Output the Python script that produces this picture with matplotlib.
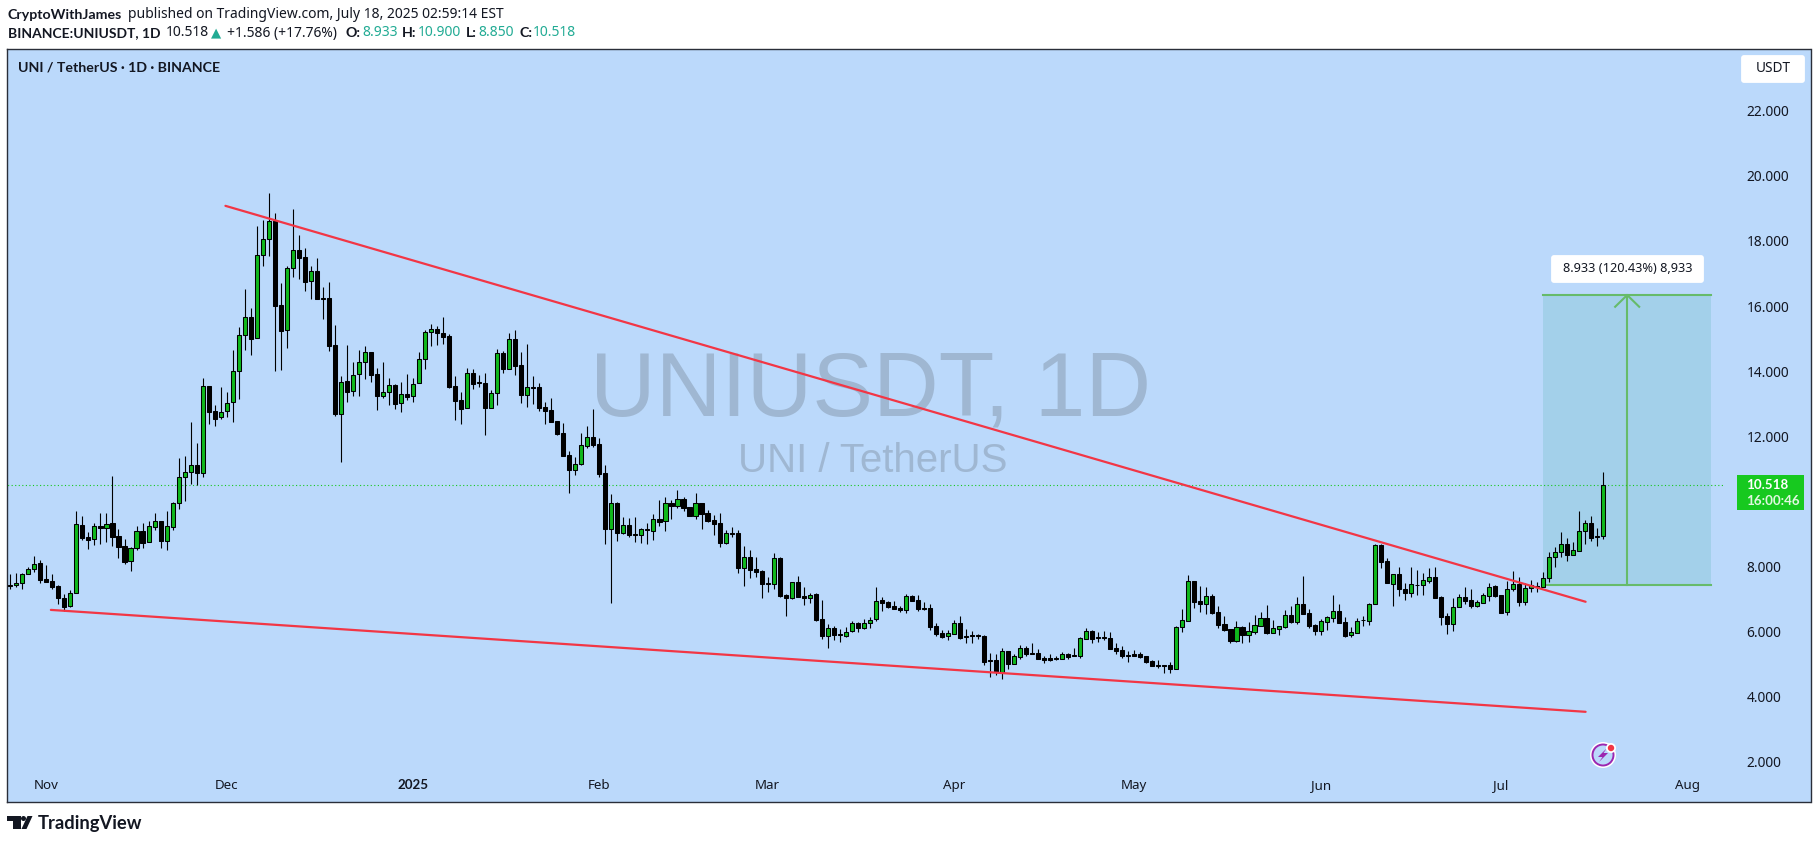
import pandas as pd
import numpy as np
import matplotlib
matplotlib.use('Agg')
import matplotlib.pyplot as plt
from matplotlib.patches import FancyBboxPatch, Rectangle, Polygon, Circle

# Daily candles, 2024-10-26 to 2025-07-18
dates = pd.date_range('2024-10-26', periods=266)

opens = [
    7.43, 7.42, 7.51, 7.78, 7.92, 8.10, 7.61, 7.55, 7.40, 7.03,
    6.78, 7.18, 9.27, 8.90, 8.84, 9.24, 9.20, 9.33, 8.93, 8.62,
    8.16, 8.56, 9.08, 8.75, 9.23, 9.39, 8.80, 9.23, 9.94, 10.74,
    10.90, 11.11, 10.86, 13.54, 12.77, 12.58, 12.77, 13.05, 14.00, 15.10,
    15.66, 15.01, 17.56, 18.05, 18.60, 16.02, 15.26, 17.16, 17.71, 17.50,
    16.76, 17.07, 16.25, 16.24, 14.80, 12.70, 13.69, 13.38, 13.90, 14.27,
    14.58, 13.90, 13.25, 13.35, 13.57, 13.01, 13.31, 13.23, 13.63, 14.37,
    15.21, 15.29, 15.16, 15.07, 13.54, 13.11, 12.86, 13.94, 13.67, 13.63,
    12.88, 13.32, 14.55, 14.08, 14.98, 14.18, 13.28, 13.52, 13.51, 12.90,
    12.80, 12.46, 12.09, 11.42, 10.98, 11.14, 11.71, 11.97, 11.76, 10.86,
    9.16, 9.95, 9.04, 9.27, 9.00, 8.98, 9.15, 9.10, 9.45, 9.39,
    9.94, 9.87, 10.07, 9.82, 9.56, 9.94, 9.64, 9.43, 9.33, 8.74,
    9.02, 9.02, 7.97, 8.31, 7.92, 7.86, 7.50, 7.48, 8.26, 7.13,
    7.05, 7.52, 7.09, 7.05, 7.15, 6.38, 5.88, 6.10, 5.93, 5.88,
    6.01, 6.26, 6.11, 6.28, 6.38, 6.96, 6.90, 6.79, 6.73, 6.68,
    7.09, 6.96, 6.72, 6.72, 6.17, 5.95, 5.86, 5.94, 6.26, 5.86,
    5.89, 5.90, 5.87, 5.13, 5.12, 4.77, 5.40, 5.02, 5.23, 5.49,
    5.35, 5.34, 5.19, 5.19, 5.20, 5.17, 5.32, 5.29, 5.26, 5.79,
    6.02, 5.84, 5.84, 5.80, 5.50, 5.43, 5.29, 5.32, 5.32, 5.24,
    5.10, 4.97, 4.97, 4.98, 4.87, 6.13, 6.34, 7.55, 6.93, 6.86,
    7.09, 6.60, 6.23, 6.07, 5.73, 6.14, 5.91, 6.00, 6.19, 6.41,
    5.97, 6.09, 6.16, 6.50, 6.31, 6.84, 6.57, 6.20, 6.03, 6.31,
    6.43, 6.63, 6.29, 5.89, 5.97, 6.37, 6.32, 6.84, 8.66, 8.16,
    7.48, 7.76, 7.31, 7.18, 7.44, 7.43, 7.57, 7.68, 7.07, 6.48,
    6.25, 6.77, 7.06, 6.97, 6.80, 6.89, 7.11, 7.40, 7.13, 6.60,
    7.32, 7.47, 6.92, 7.33, 7.41, 7.38, 7.64, 8.28, 8.46, 8.68,
    8.37, 8.49, 9.10, 9.33, 8.95, 8.933,
]
closes = [
    7.41, 7.51, 7.76, 7.92, 8.09, 7.60, 7.53, 7.38, 7.04, 6.77,
    7.18, 9.30, 8.89, 8.83, 9.24, 9.20, 9.32, 8.92, 8.61, 8.15,
    8.56, 9.08, 8.73, 9.24, 9.39, 8.80, 9.24, 9.94, 10.74, 10.90,
    11.11, 10.86, 13.54, 12.76, 12.54, 12.76, 13.03, 14.00, 15.10, 15.66,
    15.00, 17.56, 18.05, 18.60, 16.01, 15.24, 17.16, 17.71, 17.49, 16.75,
    17.07, 16.23, 16.23, 14.79, 12.69, 13.66, 13.37, 13.89, 14.27, 14.58,
    13.89, 13.25, 13.35, 13.57, 13.00, 13.31, 13.22, 13.62, 14.37, 15.21,
    15.29, 15.16, 15.06, 13.53, 13.10, 12.85, 13.94, 13.62, 13.65, 12.88,
    13.32, 14.55, 14.08, 14.98, 14.17, 13.28, 13.51, 13.50, 12.87, 12.79,
    12.45, 12.07, 11.41, 10.98, 11.14, 11.72, 11.97, 11.73, 10.85, 9.16,
    9.94, 9.04, 9.27, 8.98, 8.98, 9.14, 9.13, 9.45, 9.38, 9.94,
    9.87, 10.07, 9.80, 9.55, 9.94, 9.63, 9.41, 9.31, 8.74, 9.02,
    8.99, 7.97, 8.30, 7.90, 7.84, 7.48, 7.47, 8.25, 7.10, 7.05,
    7.52, 7.08, 7.05, 7.14, 6.36, 5.88, 6.10, 5.91, 5.91, 6.00,
    6.26, 6.11, 6.28, 6.37, 6.95, 6.89, 6.77, 6.71, 6.68, 7.09,
    6.95, 6.71, 6.70, 6.16, 5.94, 5.85, 5.95, 6.26, 5.82, 5.83,
    5.86, 5.86, 5.08, 5.11, 4.76, 5.40, 5.02, 5.24, 5.49, 5.33,
    5.33, 5.17, 5.13, 5.14, 5.17, 5.31, 5.22, 5.25, 5.80, 6.01,
    5.79, 5.82, 5.81, 5.48, 5.41, 5.26, 5.26, 5.26, 5.22, 5.07,
    4.96, 4.95, 4.95, 4.86, 6.15, 6.35, 7.55, 6.92, 6.86, 7.09,
    6.58, 6.22, 6.05, 5.72, 6.14, 5.91, 6.01, 6.20, 6.41, 5.96,
    6.10, 6.17, 6.50, 6.30, 6.84, 6.55, 6.19, 6.03, 6.32, 6.44,
    6.63, 6.28, 5.87, 5.98, 6.34, 6.35, 6.85, 8.66, 8.15, 7.49,
    7.76, 7.30, 7.18, 7.46, 7.42, 7.58, 7.67, 7.05, 6.46, 6.25,
    6.77, 7.06, 6.95, 6.80, 6.90, 7.12, 7.38, 7.10, 6.59, 7.32,
    7.47, 6.92, 7.33, 7.43, 7.38, 7.64, 8.29, 8.46, 8.68, 8.36,
    8.50, 9.10, 9.33, 8.89, 8.92, 10.518,
]
highs = [
    7.77, 7.79, 7.79, 8.00, 8.33, 8.20, 8.04, 7.77, 7.42, 7.16,
    7.28, 9.71, 9.55, 9.05, 9.33, 9.64, 9.64, 10.78, 9.15, 8.85,
    8.59, 9.25, 9.33, 9.40, 9.64, 9.40, 9.71, 9.98, 11.34, 11.40,
    12.44, 11.79, 13.78, 13.54, 12.95, 13.51, 13.35, 14.64, 15.35, 16.52,
    15.93, 18.46, 18.64, 19.46, 18.85, 16.70, 17.23, 18.97, 18.17, 17.77,
    17.22, 17.47, 16.58, 16.73, 15.41, 13.85, 14.80, 14.27, 14.64, 14.76,
    14.58, 14.09, 14.28, 13.78, 13.60, 13.67, 13.90, 13.78, 14.58, 15.26,
    15.44, 15.39, 15.67, 15.13, 13.84, 13.35, 14.09, 14.06, 13.88, 13.94,
    13.42, 14.67, 14.62, 15.17, 15.26, 14.58, 14.83, 13.84, 13.63, 13.05,
    13.17, 12.46, 12.40, 11.54, 11.36, 12.09, 12.31, 12.84, 11.94, 11.11,
    10.22, 9.98, 9.51, 9.48, 9.51, 9.18, 9.33, 9.61, 10.05, 10.13,
    10.05, 10.34, 10.15, 9.84, 10.25, 9.95, 9.74, 9.58, 9.64, 9.11,
    9.21, 9.12, 8.62, 8.50, 8.28, 7.89, 7.67, 8.41, 8.30, 7.15,
    7.54, 7.70, 7.36, 7.18, 7.20, 6.96, 6.23, 6.19, 6.07, 6.14,
    6.32, 6.31, 6.38, 6.46, 7.37, 7.06, 6.94, 6.94, 6.79, 7.15,
    7.12, 7.12, 6.91, 6.84, 6.26, 6.04, 6.05, 6.35, 6.48, 6.08,
    6.01, 5.93, 5.90, 5.35, 5.32, 5.49, 5.41, 5.32, 5.58, 5.56,
    5.65, 5.47, 5.24, 5.32, 5.25, 5.38, 5.36, 5.50, 5.83, 6.10,
    6.04, 5.99, 6.02, 5.98, 5.65, 5.55, 5.42, 5.43, 5.38, 5.25,
    5.12, 5.12, 4.97, 5.06, 6.18, 6.69, 7.74, 7.55, 7.39, 7.36,
    7.15, 6.78, 6.48, 6.07, 6.33, 6.18, 6.29, 6.51, 6.60, 6.81,
    6.35, 6.18, 6.66, 6.78, 7.06, 7.70, 6.69, 6.23, 6.38, 6.48,
    7.12, 6.84, 6.46, 6.16, 6.41, 6.49, 6.87, 8.69, 8.68, 8.25,
    7.76, 8.00, 7.49, 7.98, 7.90, 7.79, 7.95, 7.98, 7.10, 6.56,
    7.03, 7.16, 7.36, 7.30, 6.97, 7.18, 7.49, 7.44, 7.13, 7.57,
    7.87, 7.69, 7.49, 7.59, 7.54, 7.82, 8.46, 8.61, 9.07, 8.87,
    8.75, 9.71, 9.43, 9.56, 9.18, 10.90,
]
lows = [
    7.30, 7.38, 7.32, 7.77, 7.84, 7.51, 7.53, 7.32, 6.85, 6.63,
    6.77, 7.18, 8.82, 8.54, 8.66, 8.69, 8.76, 8.63, 8.26, 8.08,
    7.86, 8.51, 8.57, 8.75, 9.12, 8.57, 8.51, 9.12, 9.77, 10.01,
    10.54, 10.51, 10.74, 12.38, 12.32, 12.54, 12.59, 12.44, 13.15, 14.65,
    14.50, 15.01, 17.23, 17.54, 14.01, 14.04, 14.71, 16.88, 16.82, 16.46,
    16.22, 16.22, 15.60, 14.62, 12.62, 11.21, 13.05, 13.24, 13.24, 13.76,
    13.67, 12.81, 13.18, 12.96, 12.84, 12.75, 13.12, 13.05, 13.63, 14.07,
    14.77, 14.81, 14.84, 13.49, 12.50, 12.38, 12.86, 13.46, 13.52, 12.04,
    12.86, 12.96, 13.94, 14.08, 13.88, 13.02, 12.90, 12.99, 12.78, 12.38,
    12.44, 12.04, 11.40, 10.26, 10.81, 11.13, 11.64, 11.67, 10.75, 8.69,
    6.88, 8.79, 9.00, 8.92, 8.77, 8.72, 8.69, 8.82, 9.25, 9.09,
    9.46, 9.80, 9.71, 9.55, 9.47, 9.16, 9.37, 8.97, 8.60, 8.69,
    8.92, 7.80, 7.40, 7.66, 7.69, 7.04, 7.23, 7.32, 7.08, 6.48,
    7.02, 7.06, 6.82, 6.89, 6.34, 5.78, 5.50, 5.75, 5.68, 5.85,
    5.99, 5.99, 6.09, 6.11, 6.34, 6.65, 6.73, 6.69, 6.61, 6.59,
    6.94, 6.64, 6.67, 6.05, 5.87, 5.81, 5.75, 5.93, 5.79, 5.65,
    5.66, 5.79, 4.98, 4.61, 4.67, 4.55, 4.86, 5.01, 5.16, 5.25,
    5.33, 5.16, 5.04, 5.11, 5.13, 5.16, 5.16, 5.24, 5.19, 5.79,
    5.65, 5.69, 5.75, 5.47, 5.32, 5.19, 5.07, 5.26, 5.19, 5.05,
    4.95, 4.89, 4.73, 4.73, 4.87, 5.99, 6.34, 6.73, 6.61, 6.54,
    6.54, 6.11, 6.02, 5.65, 5.69, 5.65, 5.69, 5.93, 6.18, 5.93,
    5.97, 5.90, 6.11, 6.26, 6.24, 6.54, 6.11, 5.90, 5.90, 6.05,
    6.30, 6.26, 5.83, 5.85, 5.95, 6.19, 6.21, 6.84, 7.97, 7.49,
    6.79, 7.10, 6.98, 7.06, 7.13, 7.13, 7.49, 7.03, 6.21, 5.94,
    6.03, 6.75, 6.85, 6.74, 6.77, 6.87, 6.95, 7.08, 6.57, 6.51,
    7.26, 6.79, 6.82, 7.23, 7.22, 7.36, 7.54, 8.00, 8.31, 8.17,
    8.36, 8.49, 8.70, 8.79, 8.64, 8.85,
]

# Drawings on the chart
upper_dates = ['2024-11-30 19:00', '2025-07-15 02:00']
upper_prices = [19.08, 6.92]
lower_dates = ['2024-11-01 18:00', '2025-07-15 02:00']
lower_prices = [6.67, 3.54]
target_start, target_end, target_mid = '2025-07-08', '2025-08-05', '2025-07-22'
target_low, target_high = 7.43, 16.34

# 10.000 sits behind the price tag in the original, so it is not shown
y_ticks = [2, 4, 6, 8, 12, 14, 16, 18, 20, 22]
month_dates = ['2024-11-01', '2024-12-01', '2025-01-01', '2025-02-01', '2025-03-01',
               '2025-04-01', '2025-05-01', '2025-06-01', '2025-07-01', '2025-08-01']
month_labels = ['Nov', 'Dec', '2025', 'Feb', 'Mar', 'Apr', 'May', 'Jun', 'Jul', 'Aug']

W, H = 1818, 844
BG = '#bbd9fb'
INK = '#131722'
TEAL = '#22ab94'
BOLD = dict(fontweight='bold', family='Lato', fontsize=10.2)
plt.rcParams['font.family'] = ['Noto Sans', 'DejaVu Sans']


def fx(x):
    return x / W


def fy(y):
    return 1 - y / H


def label(x, y, s, **kw):
    kw.setdefault('color', INK)
    kw.setdefault('fontsize', 10)
    kw.setdefault('va', 'center')
    return fig.text(fx(x), fy(y), s, **kw)


fig = plt.figure(figsize=(W / 100, H / 100), dpi=100, facecolor='white')
ax = fig.add_axes([fx(7), fy(802), (1810.5 - 7) / W, (802 - 49) / H], facecolor=BG)
for s in ax.spines.values():
    s.set_color('#2a2e39')
    s.set_linewidth(1.0)

opens = np.array(opens)
closes = np.array(closes)
highs = np.array(highs)
lows = np.array(lows)
up = closes >= opens

# watermark
ax.text(0.479, 0.5445, 'UNIUSDT, 1D', transform=ax.transAxes, ha='center', va='center',
        fontsize=65.5, family='Liberation Sans', color='#9fb7d2', zorder=1)
ax.text(0.480, 0.453, 'UNI / TetherUS', transform=ax.transAxes, ha='center', va='center',
        fontsize=29, family='Liberation Sans', color='#9fb7d2', zorder=1)

# target box
ts, te, tm = pd.Timestamp(target_start), pd.Timestamp(target_end), pd.Timestamp(target_mid)
ax.fill_between([ts, te], target_low, target_high, color='#a3d0ea', lw=0, zorder=2)
ax.plot([ts, te], [target_high, target_high], color='#66bb6a', lw=1.5, zorder=3)
ax.plot([ts, te], [target_low, target_low], color='#66bb6a', lw=1.5, zorder=3)
ax.plot([tm, tm], [target_low, target_high], color='#66bb6a', lw=1.5, zorder=3)
ax.plot([tm - pd.Timedelta(days=2), tm, tm + pd.Timedelta(days=2)],
        [target_high - 0.36, target_high, target_high - 0.36], color='#66bb6a', lw=1.5, zorder=3)

# last price line
ax.hlines(closes[-1], dates[0] - pd.Timedelta(days=1), pd.Timestamp('2025-08-07'),
          color='#17c91f', lw=0.8, linestyles=(0, (1, 2.2)), zorder=3)

# candles
ax.vlines(dates, lows, highs, color='black', lw=0.8, zorder=4)
body_low = np.minimum(opens, closes)
body_high = np.maximum(opens, closes)
ax.bar(dates[up], (body_high - body_low)[up], bottom=body_low[up], width=0.68,
       color='#10b81c', edgecolor='black', linewidth=0.75, zorder=5)
ax.bar(dates[~up], (body_high - body_low)[~up], bottom=body_low[~up], width=0.68,
       color='black', edgecolor='black', linewidth=0.75, zorder=5)

# trend lines
ax.plot(pd.to_datetime(upper_dates), upper_prices, color='#f23645', lw=1.6, zorder=6,
        solid_capstyle='round')
ax.plot(pd.to_datetime(lower_dates), lower_prices, color='#f23645', lw=1.6, zorder=6,
        solid_capstyle='round')

# scales
day0 = dates[0]
ax.set_xlim(day0 - pd.Timedelta(days=0.55), day0 + pd.Timedelta(days=299.5))
ax.set_ylim(18 - (802 - 241) / 32.56, 18 + (241 - 49) / 32.56)
ax.set_xticks(pd.to_datetime(month_dates))
ax.set_xticklabels(month_labels)
ax.get_xticklabels()[2].set(fontweight='bold', family='Lato', fontsize=10.2)
ax.tick_params(axis='x', length=0, pad=-16.5, labelsize=9.6, labelcolor=INK)
ax.yaxis.tick_right()
ax.set_yticks(y_ticks)
ax.set_yticklabels([f'{v:.3f}' for v in y_ticks])
ax.tick_params(axis='y', length=0, pad=-46, labelsize=9.9, labelcolor=INK)

# header
label(8, 15, 'CryptoWithJames', **BOLD)
label(128, 15, 'published on TradingView.com, July 18, 2025 02:59:14 EST')
label(8, 33, 'BINANCE:UNIUSDT, 1D', fontweight='bold', family='Lato', fontsize=10)
label(166, 33, '10.518')
label(211, 33, '▲', color=TEAL, fontsize=9.5, family='DejaVu Sans')
label(227, 33, '+1.586 (+17.76%)')
for x, s in [(346, 'O:'), (402, 'H:'), (466, 'L:'), (519, 'C:')]:
    label(x, 33, s, **BOLD)
for x, s in [(362, '8.933'), (418, '10.900'), (478, '8.850'), (533, '10.518')]:
    label(x, 33, s, color=TEAL)
label(18, 68, 'UNI / TetherUS · 1D · BINANCE', **BOLD)

# right side widgets
fig.add_artist(FancyBboxPatch((fx(1744), fy(80)), (1802 - 1744) / W, 22 / H,
                              boxstyle='round,pad=0.0016', mutation_aspect=W / H,
                              fc='white', ec='none', transform=fig.transFigure))
label(1773, 69, 'USDT', ha='center', fontsize=9.8)
fig.add_artist(Rectangle((fx(1737), fy(510)), 67 / W, 35 / H, fc='#17c91f', ec='none',
                         transform=fig.transFigure))
label(1746, 485, '10.518', color='white', fontweight='bold', family='Lato', fontsize=9.6)
label(1746, 501, '16:00:46', color='#dff7df', fontweight='bold', family='Lato', fontsize=9.6)

# measure label
fig.add_artist(FancyBboxPatch((fx(1554), fy(280)), (1701 - 1554) / W, 22 / H,
                              boxstyle='round,pad=0.0016', mutation_aspect=W / H,
                              fc='white', ec='none', transform=fig.transFigure))
label(1627.5, 269, '8.933 (120.43%) 8,933', ha='center', fontsize=9.2)

# flash icon
icon = fig.add_axes([0, 0, 1, 1], facecolor='none')
icon.set_xlim(0, W)
icon.set_ylim(H, 0)
icon.axis('off')
icon.add_patch(Circle((1603, 755), 13, fc='white', ec='none'))
icon.add_patch(Circle((1603, 755), 10.5, fc=BG, ec='#9c27b0', lw=1.4))
icon.add_patch(Polygon([(1607, 748), (1598, 757), (1602.5, 757), (1599, 762), (1608, 753), (1603.5, 753)],
                       fc='#9c27b0', ec='none'))
icon.add_patch(Circle((1611, 748), 5, fc='white', ec='none'))
icon.add_patch(Circle((1611, 748), 3.2, fc='#f23645', ec='none'))

# TradingView logo
icon.add_patch(Polygon([(7, 816), (21, 816), (21, 829), (13, 829), (13, 821), (7, 821)], fc=INK, ec='none'))
icon.add_patch(Circle((23.5, 818.5), 2.5, fc=INK, ec='none'))
icon.add_patch(Polygon([(27.5, 816), (32.5, 816), (26.5, 829), (21.5, 829)], fc=INK, ec='none'))
label(38, 823, 'TradingView', fontweight='bold', fontsize=13.2, family='Lato')

plt.savefig('out.png', dpi=100, facecolor='white')
